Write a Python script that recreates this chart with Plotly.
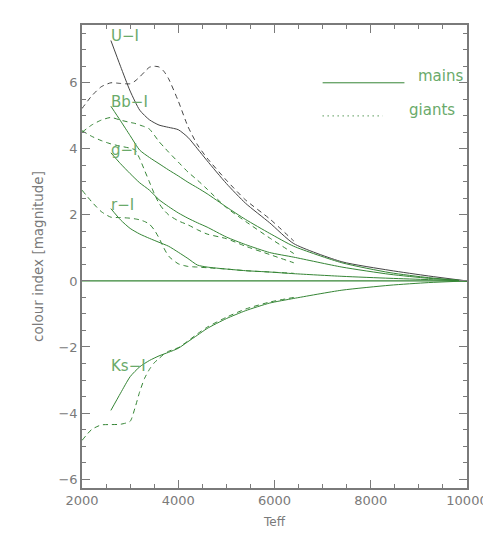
import plotly.graph_objects as go

# effective temperature grids
teff_main = [2600, 2800, 3000, 3200, 3400, 3600, 3800, 4000, 4200, 4400, 4600,
             5000, 5400, 5900, 6400, 7400, 8400, 9200, 10000]
teff_giant = [2000, 2200, 2400, 2600, 2800, 3000, 3100, 3200, 3300, 3400, 3500,
              3600, 3700, 3800, 4000, 4200, 4400, 4600, 5000, 5400, 5900, 6400]

# main sequence colour indices
ui_main = [7.28, 6.5, 5.75, 5.17, 4.88, 4.72, 4.65, 4.58, 4.35, 4.0, 3.64,
           2.95, 2.35, 1.76, 1.13, 0.58, 0.32, 0.15, 0.0]
bbi_main = [5.29, 4.85, 4.4, 3.96, 3.74, 3.55, 3.36, 3.18, 2.99, 2.82, 2.64,
            2.24, 1.86, 1.44, 1.05, 0.55, 0.25, 0.1, 0.0]
gi_main = [3.88, 3.55, 3.25, 2.97, 2.75, 2.46, 2.25, 2.06, 1.9, 1.76, 1.63,
           1.33, 1.1, 0.86, 0.72, 0.42, 0.2, 0.08, 0.0]
ri_main = [2.19, 1.85, 1.59, 1.42, 1.29, 1.17, 1.05, 0.87, 0.68, 0.48, 0.42,
           0.36, 0.31, 0.27, 0.22, 0.14, 0.08, 0.04, 0.0]
ksi_main = [-3.92, -3.4, -2.9, -2.6, -2.41, -2.27, -2.16, -2.04, -1.84, -1.64, -1.44,
            -1.14, -0.9, -0.67, -0.53, -0.28, -0.13, -0.05, 0.0]

# giants colour indices
ui_giant = [5.22, 5.6, 5.88, 6.0, 5.98, 5.97, 6.05, 6.18, 6.33, 6.47, 6.5,
            6.48, 6.35, 6.12, 5.45, 4.68, 4.12, 3.72, 3.05, 2.45, 1.88, 1.21]
bbi_giant = [4.5, 4.72, 4.87, 4.95, 4.87, 4.8, 4.77, 4.72, 4.67, 4.6, 4.42,
             4.22, 4.06, 3.9, 3.6, 3.3, 3.05, 2.78, 2.22, 1.8, 1.3, 0.83]
gi_giant = [4.55, 4.38, 4.25, 4.15, 4.08, 4.02, 3.97, 3.7, 3.35, 3.0, 2.65,
            2.35, 2.15, 2.0, 1.82, 1.7, 1.55, 1.42, 1.28, 1.05, 0.8, 0.55]
ri_giant = [2.75, 2.4, 2.1, 1.93, 1.92, 1.9, 1.88, 1.85, 1.8, 1.72, 1.55,
            1.3, 1.0, 0.75, 0.52, 0.44, 0.42, 0.4, 0.36, 0.31, 0.27, 0.23]
ksi_giant = [-4.83, -4.5, -4.36, -4.35, -4.34, -4.25, -3.85, -3.35, -2.95, -2.68, -2.48,
             -2.35, -2.22, -2.13, -2.02, -1.82, -1.6, -1.4, -1.1, -0.85, -0.64, -0.5]

zero_teff = [2000, 10000]
zero_val = [0, 0]

labels = ["U\u2212I", "Bb\u2212I", "g\u2212I", "r\u2212I", "Ks\u2212I"]
label_y = [7.42, 5.42, 3.98, 2.3, -2.58]

GREEN = "#358535"
TEXT_GREEN = "#6aaa6a"
BLACK = "#444444"
GREY = "#7a7a7a"
FONT = "DejaVu Sans"

fig = go.Figure()

series = [
    (ui_main, ui_giant, BLACK),
    (bbi_main, bbi_giant, GREEN),
    (gi_main, gi_giant, GREEN),
    (ri_main, ri_giant, GREEN),
    (ksi_main, ksi_giant, GREEN),
]
for main, giant, col in series:
    fig.add_trace(go.Scatter(x=teff_main, y=main, mode="lines",
                             line=dict(color=col, width=1, shape="spline", smoothing=0.6)))
    fig.add_trace(go.Scatter(x=teff_giant, y=giant, mode="lines",
                             line=dict(color=col, width=1, dash="5px,4px",
                                       shape="spline", smoothing=0.6)))

fig.add_trace(go.Scatter(x=zero_teff, y=zero_val, mode="lines",
                         line=dict(color=GREEN, width=1.2)))

# legend keys
fig.add_trace(go.Scatter(x=[7000, 8700], y=[6.0, 6.0], mode="lines",
                         line=dict(color=GREEN, width=1)))
fig.add_trace(go.Scatter(x=[7000, 8250], y=[5.0, 5.0], mode="lines",
                         line=dict(color=GREEN, width=1.2, dash="1px,4px")))

for txt, yv in zip(labels, label_y):
    fig.add_annotation(x=2600, y=yv, text=txt, showarrow=False, xanchor="left",
                       yanchor="middle", xshift=-2,
                       font=dict(family=FONT, size=15, color=TEXT_GREEN))

fig.add_annotation(x=9960, y=6.2, text="mains", showarrow=False, xanchor="right",
                   font=dict(family=FONT, size=15, color=TEXT_GREEN))
fig.add_annotation(x=9800, y=5.18, text="giants", showarrow=False, xanchor="right",
                   font=dict(family=FONT, size=15, color=TEXT_GREEN))

axis_common = dict(
    showgrid=False, zeroline=False, showline=True, linecolor=GREY, linewidth=1.5,
    mirror="ticks", ticks="inside", ticklen=8, tickwidth=1, tickcolor=GREY,
    tickfont=dict(family=FONT, size=13, color=GREY), automargin=False,
    ticklabeloverflow="allow",
)

fig.update_xaxes(range=[2000, 10000], dtick=2000, tick0=2000, tickformat="d",
                 minor=dict(dtick=500, ticks="inside", ticklen=4, tickcolor=GREY),
                 title=dict(text="Teff", font=dict(family=FONT, size=12, color=GREY), standoff=10),
                 **axis_common)
fig.update_yaxes(range=[-6.27, 7.75], dtick=2, tick0=0,
                 minor=dict(dtick=0.5, ticks="inside", ticklen=4, tickcolor=GREY),
                 title=dict(text="colour index [magnitude]",
                            font=dict(family=FONT, size=13.5, color=GREY), standoff=12),
                 **axis_common)

# page body adds an 8px offset, so the figure is shrunk to keep the plot box in place
fig.update_layout(
    width=483, height=524,
    margin=dict(l=74, r=24, t=17, b=44),
    plot_bgcolor="white", paper_bgcolor="white",
    showlegend=False,
)

fig.write_html("out.html")
